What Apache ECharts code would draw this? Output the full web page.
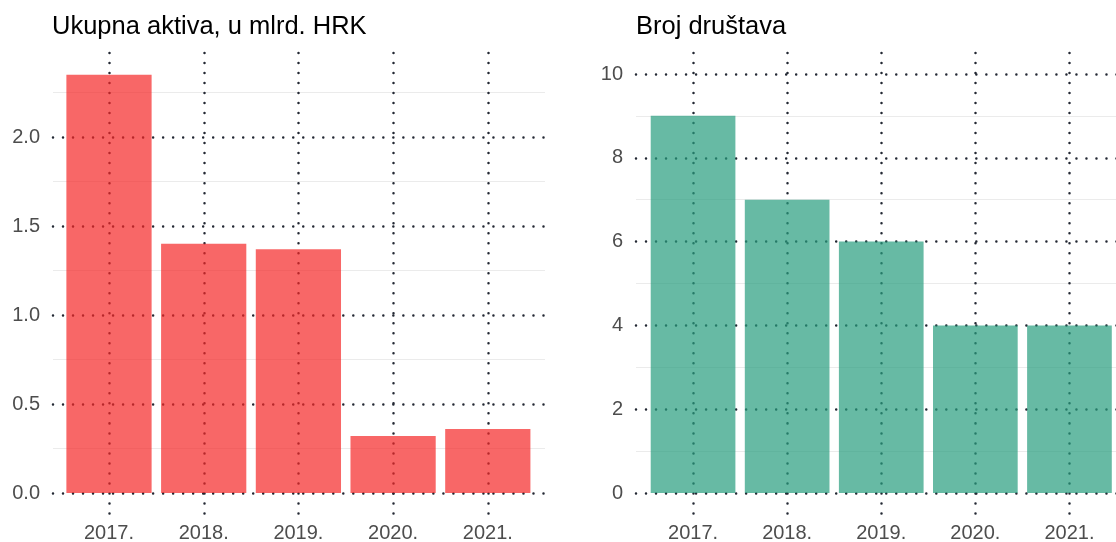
<!DOCTYPE html>
<html>
<head>
<meta charset="utf-8">
<script src="https://cdn.jsdelivr.net/npm/echarts@6/dist/echarts.min.js"></script>
<style>
  html, body { margin: 0; padding: 0; background: #fff; }
  #chart { width: 1116px; height: 542px; }
</style>
</head>
<body>
<div id="chart"></div>
<script>
// podaci
const years = ["2017.", "2018.", "2019.", "2020.", "2021."];
const aktiva = [2.35, 1.40, 1.37, 0.32, 0.36];
const drustva = [9, 7, 6, 4, 4];
const aktivaTicks = [0, 2.5, 0.5]; // min, max, interval
const drustvaTicks = [0, 10, 2];

const font = "Liberation Sans, Arial, sans-serif";
const dots = { color: "#232833", width: 2.5, type: [0.01, 10], cap: "round" };
const faint = { color: "#ebebeb", width: 1 };
const labelStyle = { color: "#4d4d4d", fontSize: 20, fontFamily: font };
const titleStyle = { fontSize: 25.5, fontWeight: "normal", color: "#000", fontFamily: font };

const chart = echarts.init(document.getElementById("chart"));

const option = {
  animation: false,
  title: [
    { text: "Ukupna aktiva, u mlrd. HRK", left: 52, top: 14, padding: 0, textStyle: titleStyle },
    { text: "Broj društava", left: 636, top: 14, padding: 0, textStyle: titleStyle }
  ],
  grid: [
    // 0,1: horizontalne linije + y oznake
    { left: 53, right: 571, top: 48, bottom: 49, outerBoundsMode: "none" },
    { left: 636, right: -10, top: 74, bottom: 49, outerBoundsMode: "none" },
    // 2,3: stupci
    { left: 61.65, width: 473.5, top: 53, bottom: 49, outerBoundsMode: "none" },
    { left: 646, right: -0.5, top: 53, bottom: 49, outerBoundsMode: "none" },
    // 4,5: vertikalne linije
    { left: 109, right: 628, top: 53, bottom: 28, outerBoundsMode: "none" },
    { left: 693, right: 46.5, top: 53, bottom: 28, outerBoundsMode: "none" }
  ],
  xAxis: [
    { gridIndex: 0, type: "value", min: 0, max: 1, show: false },
    { gridIndex: 1, type: "value", min: 0, max: 1, show: false },
    { gridIndex: 2, type: "category", data: years,
      axisLine: { show: false }, axisTick: { show: false }, splitLine: { show: false },
      axisLabel: Object.assign({ margin: 30 }, labelStyle) },
    { gridIndex: 3, type: "category", data: years,
      axisLine: { show: false }, axisTick: { show: false }, splitLine: { show: false },
      axisLabel: Object.assign({ margin: 30 }, labelStyle) },
    { gridIndex: 4, type: "value", min: 1, max: years.length, interval: 1,
      axisLine: { show: false }, axisTick: { show: false }, axisLabel: { show: false },
      splitLine: { show: true, lineStyle: dots } },
    { gridIndex: 5, type: "value", min: 1, max: years.length, interval: 1,
      axisLine: { show: false }, axisTick: { show: false }, axisLabel: { show: false },
      splitLine: { show: true, lineStyle: dots } }
  ],
  yAxis: [
    { gridIndex: 0, type: "value", min: aktivaTicks[0], max: aktivaTicks[1], interval: aktivaTicks[2],
      axisLine: { show: false }, axisTick: { show: false },
      axisLabel: Object.assign({ margin: 13, showMaxLabel: false, formatter: v => v.toFixed(1) }, labelStyle),
      splitLine: { show: true, showMaxLine: false, lineStyle: dots },
      minorTick: { show: false, splitNumber: 2 },
      minorSplitLine: { show: true, lineStyle: faint } },
    { gridIndex: 1, type: "value", min: drustvaTicks[0], max: drustvaTicks[1], interval: drustvaTicks[2],
      axisLine: { show: false }, axisTick: { show: false },
      axisLabel: Object.assign({ margin: 13 }, labelStyle),
      splitLine: { show: true, lineStyle: dots },
      minorTick: { show: false, splitNumber: 2 },
      minorSplitLine: { show: true, lineStyle: faint } },
    { gridIndex: 2, type: "value", min: 0, max: 2.5 * 440 / 445, show: false },
    { gridIndex: 3, type: "value", min: 0, max: 10.5, show: false },
    { gridIndex: 4, type: "value", min: 0, max: 1, show: false },
    { gridIndex: 5, type: "value", min: 0, max: 1, show: false }
  ],
  series: [
    { name: "Ukupna aktiva", type: "bar", xAxisIndex: 2, yAxisIndex: 2,
      data: aktiva, barCategoryGap: "10%",
      itemStyle: { color: "#F52727", opacity: 0.7 } },
    { name: "Broj društava", type: "bar", xAxisIndex: 3, yAxisIndex: 3,
      data: drustva, barCategoryGap: "10%",
      itemStyle: { color: "#269C7D", opacity: 0.7 } }
  ]
};

chart.setOption(option);
</script>
</body>
</html>
